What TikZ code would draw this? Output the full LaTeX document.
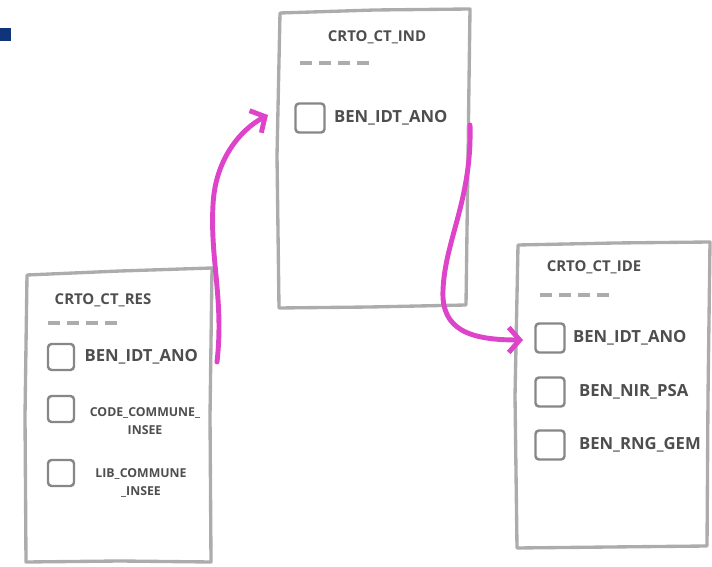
\documentclass[tikz,border=0pt]{standalone}
\usepackage{fontspec}
\setmainfont{Open Sans}
\usetikzlibrary{arrows.meta,positioning}
\definecolor{SketchGray}{RGB}{172,172,172}
\definecolor{BoxGray}{RGB}{135,135,135}
\definecolor{InkGray}{RGB}{78,78,78}
\definecolor{LinkPink}{RGB}{221,68,201}
\definecolor{CornerBlue}{RGB}{16,52,122}
\tikzset{
  tablebox/.style={draw=SketchGray,line width=1.9pt,line join=round},
  checkbox/.style={draw=BoxGray,line width=1.4pt,rounded corners=2pt,minimum size=0.58cm,inner sep=0pt},
  title/.style={text=InkGray,inner sep=0pt,font=\bfseries\fontsize{8.5}{10}\selectfont},
  field/.style={text=InkGray,inner sep=0pt,font=\bfseries\fontsize{9.5}{11}\selectfont},
  smallfield/.style={field,align=center,font=\bfseries\fontsize{7}{10}\selectfont},
  keydash/.style={draw=SketchGray,line width=2pt,dash pattern=on 6.8pt off 4pt},
  link/.style={draw=LinkPink,line width=2.8pt,line cap=round,line join=round,
    -{Straight Barb[length=2.2mm,width=5mm]}}
}

\begin{document}
\begin{tikzpicture}
  \useasboundingbox (0,0) rectangle (14.24,11.32);
  \fill[CornerBlue] (0,10.50) rectangle (0.21,10.76);

  % table CRTO_CT_RES
  \draw[tablebox] (0.54,5.82) -- (2.4,5.90) -- (4.24,5.96) -- (4.20,3.0) -- (4.22,0.08)
    -- (2.4,0.10) -- (0.52,0.08) -- (0.50,3.0) -- cycle;
  \node[title] (restitle) at (2.06,5.32) {CRTO\_CT\_RES};
  \draw[keydash] (0.96,4.86) -- (2.34,4.86);
  \node[checkbox,minimum size=0.52cm] (rescb1) at (1.22,4.18) {};
  \node[checkbox,minimum size=0.52cm] (rescb2) at (1.22,3.14) {};
  \node[checkbox,minimum size=0.52cm] (rescb3) at (1.22,1.86) {};
  \node[field,right=0.18 of rescb1] (residt) {BEN\_IDT\_ANO};
  \node[smallfield] (rescode) at (2.90,2.90) {CODE\_COMMUNE\_\\INSEE};
  \node[smallfield] (reslib) at (2.82,1.66) {LIB\_COMMUNE\\\_INSEE};

  % table CRTO_CT_IND
  \draw[tablebox] (5.60,11.06) -- (7.5,11.12) -- (9.40,11.14) -- (9.36,8.2) -- (9.32,5.22)
    -- (7.4,5.18) -- (5.58,5.16) -- (5.54,8.2) -- cycle;
  \node[title] (indtitle) at (7.54,10.58) {CRTO\_CT\_IND};
  \draw[keydash] (6.00,10.06) -- (7.44,10.06);
  \node[checkbox] (indcb1) at (6.20,8.96) {};
  \node[field,right=0.16 of indcb1] (indidt) {BEN\_IDT\_ANO};

  % table CRTO_CT_IDE
  \draw[tablebox] (10.36,6.42) -- (12.3,6.46) -- (14.20,6.48) -- (14.16,3.4) -- (14.14,0.40)
    -- (12.2,0.38) -- (10.34,0.36) -- (10.30,3.4) -- cycle;
  \node[title] (idetitle) at (11.88,5.98) {CRTO\_CT\_IDE};
  \draw[keydash] (10.80,5.42) -- (12.20,5.42);
  \node[checkbox] (idecb1) at (11.00,4.56) {};
  \node[checkbox] (idecb2) at (11.00,3.48) {};
  \node[checkbox] (idecb3) at (11.00,2.42) {};
  \node[field,right=0.14 of idecb1] (ideidt) {BEN\_IDT\_ANO};
  \node[field,right=0.26 of idecb2] (idenir) {BEN\_NIR\_PSA};
  \node[field,right=0.26 of idecb3] (iderng) {BEN\_RNG\_GEM};

  % links between the tables
  \coordinate (resout) at (4.34,4.08);
  \coordinate (resbend) at (4.26,7.22);
  \coordinate (indin) at (5.36,9.02);
  \coordinate (indout) at (9.40,8.82);
  \coordinate (indbend) at (8.86,5.52);
  \coordinate (idein) at (10.46,4.52);
  \draw[link] (resout) .. controls (4.48,5.32) and (4.20,6.12) .. (resbend)
    .. controls (4.30,8.12) and (4.80,8.72) .. (indin);
  \draw[link] (indout) .. controls (9.44,7.32) and (8.90,6.52) .. (indbend)
    .. controls (8.82,4.72) and (9.40,4.52) .. (idein);
\end{tikzpicture}
\end{document}
